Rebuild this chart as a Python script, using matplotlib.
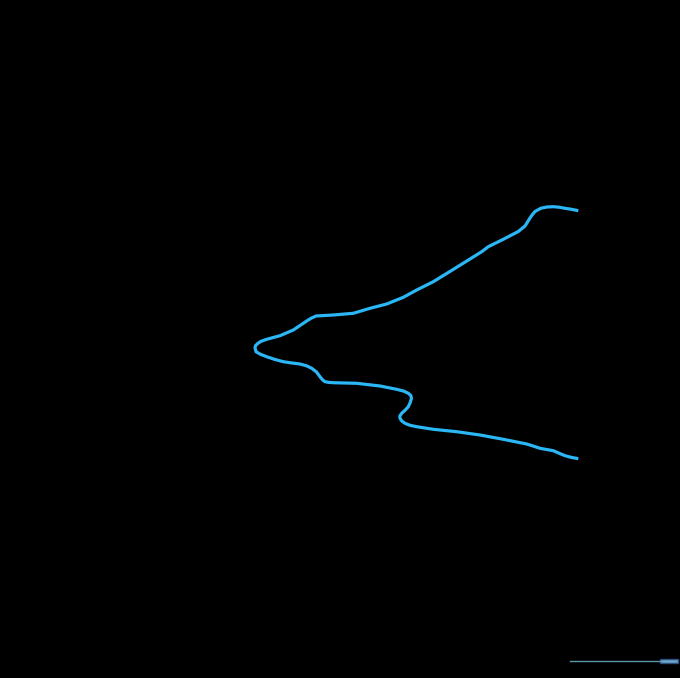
import matplotlib
matplotlib.use('Agg')
import matplotlib.pyplot as plt
import matplotlib.patches as patches

# path (screen coordinates, y grows downward)
path_x = [578.3, 571.0, 565.0, 559.0, 553.3, 547.0, 541.0, 535.0, 532.5, 530.0,
          527.5, 525.0, 518.3, 503.3, 488.3, 481.7, 456.7, 433.3, 416.7, 403.3,
          386.7, 370.0, 353.3, 333.3, 316.0, 311.0, 306.7, 293.3, 280.0, 266.7,
          261.0, 258.0, 255.6, 255.0, 256.0,
          260.5, 266.7, 275.0, 283.3, 292.0, 300.0, 306.5, 311.7, 316.5, 320.0,
          322.5, 325.0, 329.0, 333.3, 345.0, 356.7, 380.0, 396.7, 404.0, 408.3,
          410.8, 411.5, 410.2, 408.3, 405.0, 401.7, 399.8, 400.0, 401.8, 405.0,
          410.0, 416.7, 433.3, 456.7, 480.0, 503.3, 526.7, 533.0, 540.0, 553.3,
          559.0, 565.0, 571.0, 578.3]
path_y = [210.7, 209.2, 208.3, 207.2, 206.7, 207.0, 208.2, 211.5, 214.5, 218.0,
          222.0, 226.0, 231.5, 239.3, 246.7, 251.7, 267.3, 281.7, 290.0, 297.3,
          304.0, 308.3, 313.3, 315.0, 316.0, 318.3, 321.0, 330.0, 335.7, 339.3,
          341.3, 343.3, 345.5, 347.7, 351.7,
          354.3, 356.7, 359.5, 361.7, 363.0, 364.0, 365.8, 368.3, 372.0, 376.7,
          379.8, 381.7, 382.4, 382.7, 383.0, 383.3, 386.0, 389.3, 391.2, 393.3,
          395.5, 398.3, 402.5, 406.7, 410.3, 413.3, 416.0, 418.3, 421.0, 423.3,
          425.3, 426.7, 429.3, 431.7, 435.0, 439.3, 444.0, 446.0, 448.3, 450.7,
          453.2, 455.7, 457.3, 458.7]

# zoom slider extent (pixels)
slider_x = [570, 661]
slider_y = 661
handle_x = [660, 678]

fig = plt.figure(figsize=(6.8, 6.78), dpi=100)
fig.patch.set_facecolor('#000000')
ax = fig.add_axes([0, 0, 1, 1])
ax.set_facecolor('#000000')
ax.set_xlim(0, 680)
ax.set_ylim(678, 0)
ax.axis('off')

ax.plot(path_x, path_y, color='#2bb6f6', linewidth=2.3,
        solid_joinstyle='round', solid_capstyle='butt')

# slider at the bottom right
ax.plot(slider_x, [slider_y, slider_y], color='#5b97ab', linewidth=1.0)
ax.add_patch(patches.Rectangle((handle_x[0], slider_y - 2), handle_x[1] - handle_x[0], 4,
                               facecolor='#6fa6c8', edgecolor='#2a4f80', linewidth=1.0))

fig.savefig('out.png', dpi=100, facecolor='#000000')
plt.close()
